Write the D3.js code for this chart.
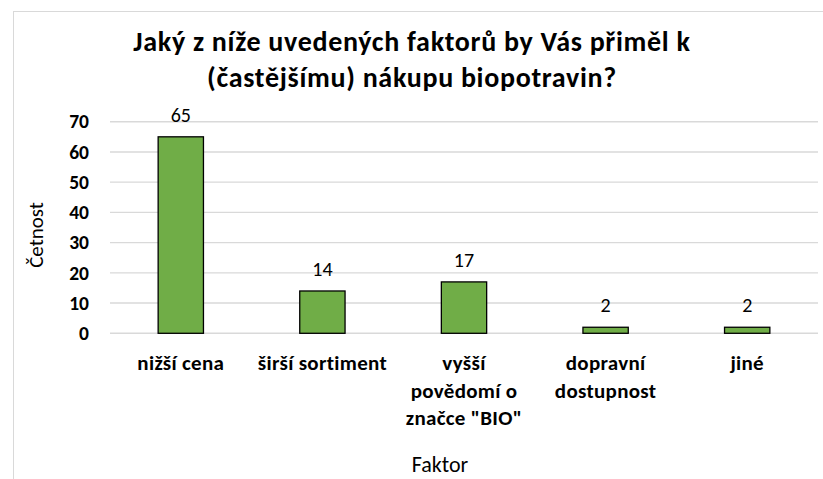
<!DOCTYPE html>
<html><head><meta charset="utf-8">
<script src="https://cdn.jsdelivr.net/npm/d3@7"></script>
<style>body{margin:0;background:#fff}svg{display:block;font-family:Carlito,Lato,"Open Sans",sans-serif}</style>
</head><body>
<svg id="c" width="823" height="479"></svg>
<script>
const categories = [["nižší cena"],["širší sortiment"],["vyšší","povědomí o","značce \"BIO\""],["dopravní","dostupnost"],["jiné"]];
const values = [65,14,17,2,2];
const yTicks = [0,10,20,30,40,50,60,70];
const titleLines = ["Jaký z níže uvedených faktorů by Vás přiměl k","(častějšímu) nákupu biopotravin?"];
const yTitle = "Četnost", xTitle = "Faktor";

const svg = d3.select("#c");
svg.append("rect").attr("x",13.5).attr("y",11.5).attr("width",830).attr("height",480).attr("fill","#fff").attr("stroke","#d9d9d9");
const m = {l:110,r:818,t:121.7,b:333.3};
const x = d3.scaleBand().domain(d3.range(values.length)).range([m.l,m.r]).paddingInner(0.68).paddingOuter(0.34);
const y = d3.scaleLinear().domain([0,70]).range([m.b,m.t]);

svg.append("g").selectAll("line").data(yTicks).join("line")
  .attr("x1",m.l).attr("x2",m.r).attr("y1",d=>y(d)).attr("y2",d=>y(d))
  .attr("stroke","#d9d9d9").attr("stroke-width",1.4);

const yAxis = d3.axisLeft(y).tickValues(yTicks).tickSize(0).tickPadding(0);
const ga = svg.append("g").attr("transform",`translate(89,0)`).call(yAxis);
ga.select(".domain").remove();
ga.selectAll("text").attr("font-size",19.5).attr("font-weight","bold").attr("fill","#000").attr("font-family","Carlito,Lato,sans-serif");

svg.append("g").selectAll("rect").data(values).join("rect")
  .attr("x",(d,i)=>x(i)).attr("width",x.bandwidth())
  .attr("y",d=>y(d)).attr("height",d=>y(0)-y(d))
  .attr("fill","#70ad47").attr("stroke","#000").attr("stroke-width",1.3);

svg.append("g").selectAll("text").data(values).join("text")
  .attr("x",(d,i)=>x(i)+x.bandwidth()/2).attr("y",d=>y(d)-15)
  .attr("text-anchor","middle").attr("font-size",20).attr("fill","#000").text(d=>d);

const cl = svg.append("g").selectAll("g").data(categories).join("g")
  .attr("transform",(d,i)=>`translate(${x(i)+x.bandwidth()/2},370)`);
cl.selectAll("text").data(d=>d).join("text")
  .attr("y",(d,j)=>j*27.5).attr("text-anchor","middle").attr("font-size",21).attr("letter-spacing",0.3)
  .attr("font-weight","bold").attr("fill","#000").text(d=>d);

svg.append("g").selectAll("text").data(titleLines).join("text")
  .attr("x",412).attr("y",(d,i)=>51+i*36).attr("text-anchor","middle").attr("letter-spacing",0.7)
  .attr("font-size",28).attr("font-weight","bold").attr("fill","#000").text(d=>d);

svg.append("text").attr("transform","translate(43,235) rotate(-90)").attr("text-anchor","middle")
  .attr("font-size",21).attr("fill","#000").text(yTitle);
svg.append("text").attr("x",440).attr("y",472).attr("text-anchor","middle")
  .attr("font-size",22).attr("fill","#000").text(xTitle);
</script>
</body></html>
